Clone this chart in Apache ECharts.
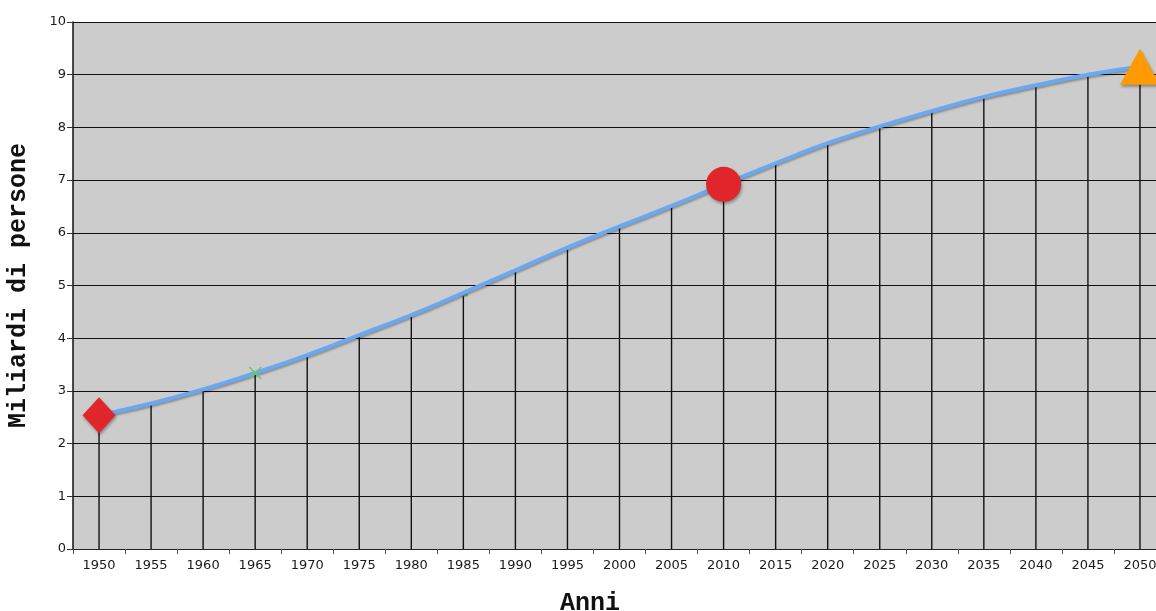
<!DOCTYPE html>
<html>
<head>
<meta charset="utf-8">
<script src="https://cdn.jsdelivr.net/npm/echarts@6/dist/echarts.min.js"></script>
<style>
  html, body { margin: 0; padding: 0; background: #ffffff; }
  #chart { width: 1156px; height: 611px; }
</style>
</head>
<body>
<div id="chart"></div>
<script>
// World population, billions of people, every five years
const anni = ['1950','1955','1960','1965','1970','1975','1980','1985','1990','1995','2000',
              '2005','2010','2015','2020','2025','2030','2035','2040','2045','2050'];
const popolazione = [2.54, 2.76, 3.03, 3.34, 3.68, 4.06, 4.44, 4.86, 5.29, 5.72, 6.12,
                     6.51, 6.92, 7.32, 7.70, 8.02, 8.31, 8.58, 8.80, 9.00, 9.15];
const yTicks = [0, 1, 2, 3, 4, 5, 6, 7, 8, 9, 10];

// Highlighted years
const puntoInizio = [[anni[0], popolazione[0]]];
const puntoX = [[anni[3], popolazione[3]]];
const puntoTratto = [[anni[7], popolazione[7]]];
const puntoOggi = [[anni[12], popolazione[12]]];
const puntoFine = [[anni[20], popolazione[20]]];

const chart = echarts.init(document.getElementById('chart'), null, { renderer: 'canvas' });

const markShadow = {
  opacity: 1,
  shadowColor: 'rgba(0,0,0,0.35)',
  shadowBlur: 3,
  shadowOffsetX: 1,
  shadowOffsetY: 2
};

chart.setOption({
  backgroundColor: '#ffffff',
  animation: false,
  title: {
    text: 'Anni',
    left: 555,
    top: 586,
    textStyle: {
      fontFamily: 'Liberation Mono',
      fontWeight: 'bold',
      fontSize: 25,
      color: '#111111'
    }
  },
  grid: {
    left: 73,
    right: -10,
    top: 22,
    bottom: 62,
    show: true,
    backgroundColor: '#cccccc',
    borderWidth: 0,
    containLabel: false,
    outerBoundsMode: 'none'
  },
  xAxis: {
    type: 'category',
    data: anni,
    boundaryGap: true,
    axisLine: { show: true, lineStyle: { color: '#222222', width: 1 } },
    axisTick: { show: true, length: 5, inside: false, lineStyle: { color: '#555555' } },
    axisLabel: {
      margin: 10,
      fontFamily: 'DejaVu Sans',
      fontSize: 13,
      color: '#1a1a1a',
      interval: 0
    },
    splitLine: { show: false }
  },
  yAxis: {
    type: 'value',
    min: yTicks[0],
    max: yTicks[yTicks.length - 1],
    interval: 1,
    name: 'Miliardi di persone',
    nameLocation: 'middle',
    nameGap: 42,
    nameRotate: 90,
    nameTextStyle: {
      fontFamily: 'Liberation Mono',
      fontWeight: 'bold',
      fontSize: 25,
      color: '#111111'
    },
    axisLine: { show: true, lineStyle: { color: '#111111', width: 1.5 } },
    axisTick: { show: true, length: 6, lineStyle: { color: '#333333' } },
    axisLabel: {
      margin: 7,
      fontFamily: 'DejaVu Sans',
      fontSize: 13,
      color: '#1a1a1a'
    },
    splitLine: { show: true, lineStyle: { color: '#111111', width: 1.2 } }
  },
  series: [
    {
      // vertical drop lines from zero to each value
      type: 'bar',
      data: popolazione,
      barWidth: 1.4,
      itemStyle: { color: '#111111' },
      silent: true,
      z: 2
    },
    {
      type: 'line',
      data: popolazione,
      smooth: true,
      symbol: 'none',
      lineStyle: {
        color: '#6aa8f2',
        width: 4,
        shadowColor: 'rgba(0,0,0,0.3)',
        shadowBlur: 2,
        shadowOffsetY: 2
      },
      z: 3
    },
    {
      type: 'scatter',
      data: puntoX,
      symbol: 'path://M0,0 L10,10 M10,0 L0,10',
      symbolSize: 12,
      itemStyle: { color: 'rgba(0,0,0,0)', borderColor: '#66cc66', borderWidth: 1.5, opacity: 1 },
      z: 4
    },
    {
      type: 'scatter',
      data: puntoTratto,
      symbol: 'rect',
      symbolSize: [9, 3],
      symbolOffset: [0, 2],
      itemStyle: { color: '#7fae6a', opacity: 1 },
      z: 2
    },
    {
      type: 'scatter',
      data: puntoInizio,
      symbol: 'diamond',
      symbolSize: [33, 36],
      itemStyle: Object.assign({ color: '#e0262b' }, markShadow),
      z: 5
    },
    {
      type: 'scatter',
      data: puntoOggi,
      symbol: 'circle',
      symbolSize: 35,
      itemStyle: Object.assign({ color: '#e0262b' }, markShadow),
      z: 5
    },
    {
      type: 'scatter',
      data: puntoFine,
      symbol: 'triangle',
      symbolSize: [40, 36],
      itemStyle: Object.assign({ color: '#ff9a00' }, markShadow),
      z: 5
    }
  ]
});
</script>
</body>
</html>
